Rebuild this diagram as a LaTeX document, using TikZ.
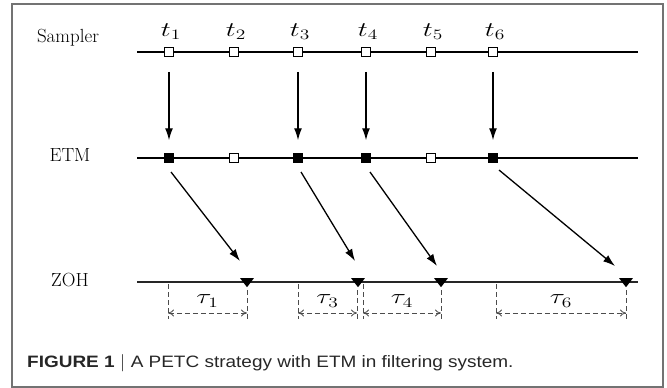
\documentclass[tikz,border=0pt]{standalone}
\usepackage{fontspec}
\newfontfamily\capfont{Liberation Sans}
\usetikzlibrary{arrows.meta,shapes.geometric,calc}
\newcommand{\wide}[1]{\scalebox{1.35}[1]{#1}}
\begin{document}
\begin{tikzpicture}[x=1pt,y=-1pt,
  lbl/.style={font=\fontsize{19}{22}\selectfont},
  tlbl/.style={font=\fontsize{20}{23}\selectfont},
  timeline/.style={line width=1.4pt},
  zohline/.style={line width=2pt, draw=black!85},
  opensq/.style={draw, fill=white, line width=1pt, minimum size=8.5pt, inner sep=0pt},
  fullsq/.style={draw, fill=black, line width=1pt, minimum size=8.5pt, inner sep=0pt},
  tri/.style={isosceles triangle, shape border rotate=-90, isosceles triangle apex angle=75, fill=black, inner sep=0pt, minimum height=9pt, minimum width=12pt},
  arr/.style={line width=1.3pt, -{Latex[length=12pt,width=8pt]}},
  tick/.style={dashed, dash pattern=on 5pt off 3pt, line width=0.8pt, draw=black!70},
  dim/.style={dashed, dash pattern=on 5pt off 3pt, line width=0.8pt, draw=black!70, {To[length=6pt,width=7pt]}-{To[length=6pt,width=7pt]}},
]
\useasboundingbox (0,0) rectangle (667,388);
\draw[black!55, line width=1.2pt] (12,4) rectangle (663,387);

% row labels
\node[lbl] (lS) at (68,38) {Sampler};
\node[lbl] (lE) at (70,155) {ETM};
\node[lbl] (lZ) at (70,280) {ZOH};

% time lines
\coordinate (sa) at (137,52); \coordinate (sb) at (638,52);
\coordinate (ea) at (137,158); \coordinate (eb) at (638,158);
\coordinate (za) at (137,282); \coordinate (zb) at (638,282);
\draw[timeline] (sa) -- (sb);
\draw[timeline] (ea) -- (eb);
\draw[zohline] (za) -- (zb);

% sampler squares and labels
\foreach \i/\x in {1/169,2/234,3/298,4/366,5/431,6/493}{
  \node[opensq] (s\i) at (\x,52) {};
  \node[tlbl] (t\i) at (\x+2,32) {\wide{$t_{\i}$}};
}
% ETM squares
\node[fullsq] (e1) at (169,158) {};
\node[opensq] (e2) at (234,158) {};
\node[fullsq] (e3) at (298,158) {};
\node[fullsq] (e4) at (366,158) {};
\node[opensq] (e5) at (431,158) {};
\node[fullsq] (e6) at (493,158) {};

% vertical arrows
\foreach \i in {1,3,4,6}{
  \draw[arr, shorten <=15pt, shorten >=13pt] (s\i) -- (e\i);
}

% ZOH triangles
\node[tri, anchor=north] (z1) at (247,278) {};
\node[tri, anchor=north] (z3) at (358,278) {};
\node[tri, anchor=north] (z4) at (441,278) {};
\node[tri, anchor=north] (z6) at (626,278) {};

% diagonal arrows
\coordinate (d1a) at (171,172); \coordinate (d1b) at (240,261);
\coordinate (d3a) at (301,172); \coordinate (d3b) at (355,261);
\coordinate (d4a) at (370,172); \coordinate (d4b) at (437,266);
\coordinate (d6a) at (499,170); \coordinate (d6b) at (615,266);
\foreach \i in {1,3,4,6}{
  \draw[arr] (d\i a) -- (d\i b);
}

% dimension ticks and arrows
\foreach \i/\a/\b in {1/168/247,3/298/357,4/363/441,6/496/626}{
  \coordinate (ta\i) at (\a,284); \coordinate (tb\i) at (\a,319);
  \coordinate (tc\i) at (\b,290); \coordinate (td\i) at (\b,319);
  \draw[tick] (ta\i) -- (tb\i);
  \draw[tick] (tc\i) -- (td\i);
  \coordinate (da\i) at (\a,313); \coordinate (db\i) at (\b,313);
  \draw[dim] (da\i) -- (db\i);
  \node[tlbl] (tau\i) at ({(\a+\b)/2},301) {\wide{$\tau_{\i}$}};
}

% caption
\node[anchor=base west, inner sep=0pt, text=black!85, font=\capfont\fontsize{16.5}{19}\selectfont] (cap) at (27,367) {\scalebox{1.15}[1]{\textbf{FIGURE 1 $|$} A PETC strategy with ETM in filtering system.}};
\end{tikzpicture}
\end{document}
